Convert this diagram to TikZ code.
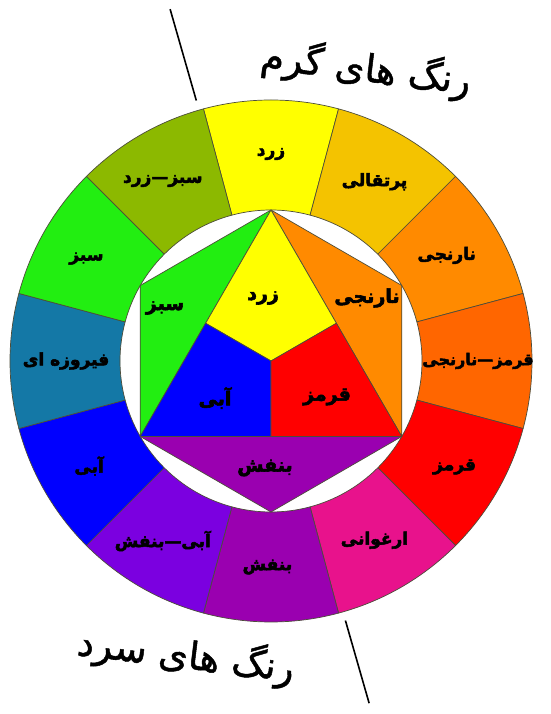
\documentclass[tikz,border=0pt]{standalone}
\usepackage{fontspec}
\newfontfamily\fa[Script=Arabic,FakeBold=1.2]{DejaVu Sans}
\newfontfamily\fab[Script=Arabic,FakeBold=3]{DejaVu Sans}
\TeXXeTstate=1
\definecolor{cY}{HTML}{FFFF00}
\definecolor{cYO}{HTML}{F4C300}
\definecolor{cO}{HTML}{FF8A00}
\definecolor{cRO}{HTML}{FF6600}
\definecolor{cR}{HTML}{FF0000}
\definecolor{cRV}{HTML}{E8128C}
\definecolor{cV}{HTML}{9A00B0}
\definecolor{cBV}{HTML}{7B00E0}
\definecolor{cB}{HTML}{0000FF}
\definecolor{cT}{HTML}{1478A6}
\definecolor{cG}{HTML}{22EE11}
\definecolor{cYG}{HTML}{8CB900}
\definecolor{edgegray}{HTML}{4D4D3A}
\begin{document}
\begin{tikzpicture}[x=1pt,y=1pt,
  seg/.style={draw=edgegray, line width=0.7pt, line join=round},
  lbl/.style={font=\fab\bfseries\fontsize{17}{18}\selectfont, inner sep=0pt},
  ilbl/.style={font=\fab\bfseries\fontsize{19}{20}\selectfont, inner sep=0pt},
  ttl/.style={font=\fa\fontsize{38}{40}\selectfont, inner sep=0pt, rotate=-7},
  divider/.style={line width=1.6pt, draw=black}]
\fill[white] (0,0) rectangle (550,714);
\useasboundingbox (0,0) rectangle (550,714);
\begin{scope}[shift={(271,353)}]
  % outer ring
  \foreach \c [count=\k from 0] in {cY,cYO,cO,cRO,cR,cRV,cV,cBV,cB,cT,cG,cYG} {
    \pgfmathsetmacro\a{90-30*\k}
    \draw[seg, fill=\c] (\a+15:261) arc[start angle=\a+15, end angle=\a-15, radius=261]
      -- (\a-15:151) arc[start angle=\a-15, end angle=\a+15, radius=151] -- cycle;
  }
  % inner hexagon points
  \coordinate (O) at (0,0);
  \coordinate (H90) at (90:151);
  \coordinate (H30) at (30:151);
  \coordinate (H330) at (-30:151);
  \coordinate (H270) at (-90:151);
  \coordinate (H210) at (-150:151);
  \coordinate (H150) at (150:151);
  \path (H90) -- (H210) coordinate[pos=0.5] (ML);
  \path (H90) -- (H330) coordinate[pos=0.5] (MR);
  \path (H210) -- (H330) coordinate[pos=0.5] (MB);
  \draw[seg, fill=cG] (H90) -- (H150) -- (H210) -- cycle;
  \draw[seg, fill=cO] (H90) -- (H30) -- (H330) -- cycle;
  \draw[seg, fill=cV] (H210) -- (H270) -- (H330) -- cycle;
  \draw[seg, fill=cY] (H90) -- (ML) -- (O) -- (MR) -- cycle;
  \draw[seg, fill=cB] (H210) -- (MB) -- (O) -- (ML) -- cycle;
  \draw[seg, fill=cR] (H330) -- (MR) -- (O) -- (MB) -- cycle;
  % outer labels
  \node[lbl] (l0) at (90:207) {\beginR زرد\endR};
  \node[lbl] (l1) at (60:207) {\beginR پرتقالی\endR};
  \node[lbl] (l2) at (31:205) {\beginR نارنجی\endR};
  \node[lbl, font=\fab\bfseries\fontsize{16}{17}\selectfont] (l3) at (0:207) {\beginR قرمز—نارنجی\endR};
  \node[lbl] (l4) at (-30:212) {\beginR قرمز\endR};
  \node[lbl] (l5) at (-60:207) {\beginR ارغوانی\endR};
  \node[lbl] (l6) at (-91:206) {\beginR بنفش\endR};
  \node[lbl] (l7) at (-121:210) {\beginR آبی—بنفش\endR};
  \node[lbl] (l8) at (-150:210) {\beginR آبی\endR};
  \node[lbl] (l9) at (180:205) {\beginR فیروزه ای\endR};
  \node[lbl] (l10) at (151:211) {\beginR سبز\endR};
  \node[lbl] (l11) at (121:210) {\beginR سبز—زرد\endR};
  % inner labels
  \node[ilbl] (iy) at (-8,63) {\beginR زرد\endR};
  \node[ilbl] (ig) at (-106,53) {\beginR سبز\endR};
  \node[ilbl] (io) at (96,63) {\beginR نارنجی\endR};
  \node[ilbl] (ib) at (-56,-37) {\beginR آبی\endR};
  \node[ilbl] (ir) at (56,-36) {\beginR قرمز\endR};
  \node[ilbl] (iv) at (-6,-107) {\beginR بنفش\endR};
  % dividers
  \coordinate (d1a) at (106:271);
  \coordinate (d1b) at (106:366);
  \coordinate (d2a) at (-74:270);
  \coordinate (d2b) at (-74:356);
  \draw[divider] (d1a) -- (d1b);
  \draw[divider] (d2a) -- (d2b);
\end{scope}
\node[ttl] (warm) at (366,645) {\beginR رنگ های گرم\endR};
\node[ttl] (cold) at (186,58) {\beginR رنگ های سرد\endR};
\end{tikzpicture}
\end{document}
